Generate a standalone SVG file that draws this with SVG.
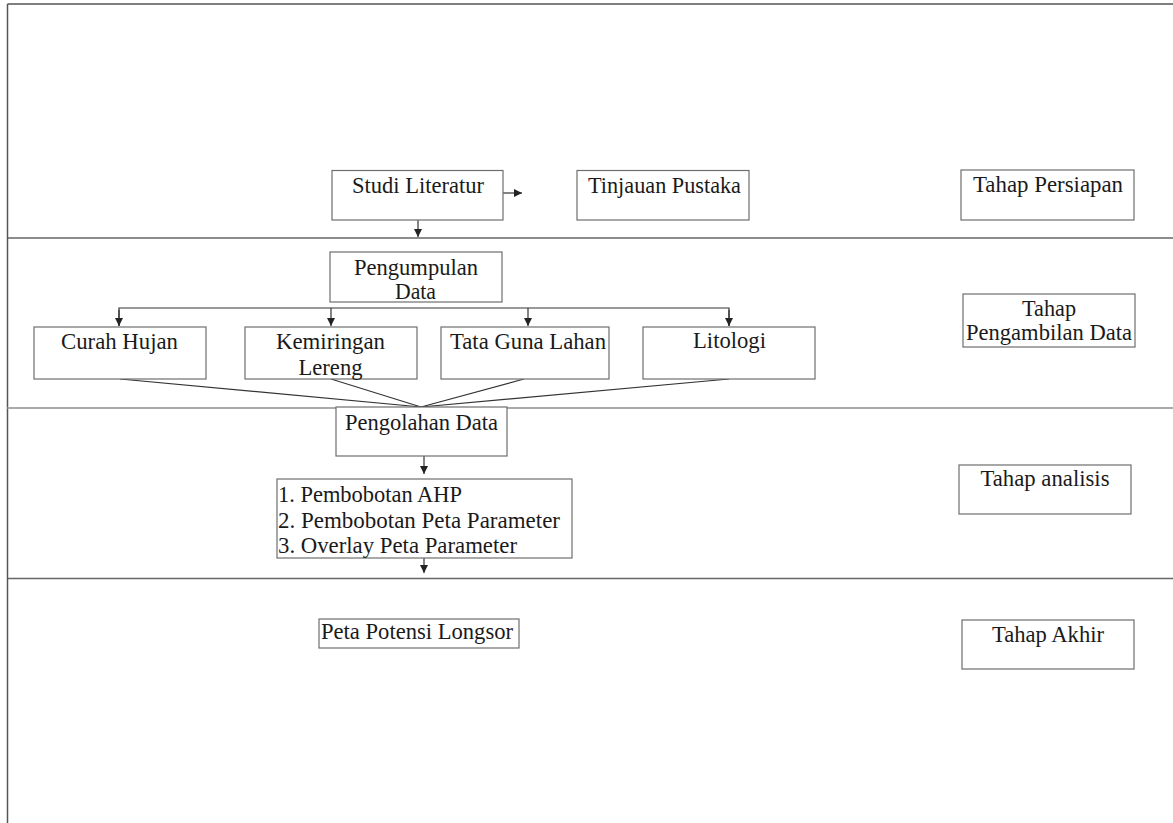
<svg xmlns="http://www.w3.org/2000/svg" width="1173" height="823" viewBox="0 0 1173 823">
<style>
.box{fill:#fff;stroke:#6e6e6e;stroke-width:1.2}
.t{font-family:"Liberation Serif","Times New Roman",serif;font-size:24px;fill:#1a1a1a;text-anchor:middle}
.tl{font-family:"Liberation Serif","Times New Roman",serif;font-size:24px;fill:#1a1a1a}
.c{stroke:#333;stroke-width:1.2;fill:none}
.sep{stroke:#666;stroke-width:1.5}
</style>
<defs>
<marker id="ah" markerWidth="8" markerHeight="8" refX="8" refY="4" orient="auto" markerUnits="userSpaceOnUse">
<path d="M0,0 L8,4 L0,8 Z" fill="#222"/>
</marker>
</defs>
<rect width="1173" height="823" fill="#fff"/>
<g id="frame">
<line x1="7.5" y1="4" x2="1173" y2="4" stroke="#555" stroke-width="1.5"/>
<line x1="7.5" y1="4" x2="7.5" y2="823" stroke="#555" stroke-width="1.5"/>
<line class="sep" x1="7.5" y1="238" x2="1173" y2="238"/>
<line x1="7.5" y1="408" x2="1173" y2="408" stroke="#aaa" stroke-width="2"/>
<line class="sep" x1="7.5" y1="578.5" x2="1173" y2="578.5"/>
</g>
<g id="connectors">
<line class="c" x1="503" y1="193" x2="522" y2="193" marker-end="url(#ah)"/>
<line class="c" x1="418" y1="220" x2="418" y2="237" marker-end="url(#ah)"/>
<polyline class="c" points="119,326 119,308 729,308 729,326"/>
<line class="c" x1="119" y1="310" x2="119" y2="326" marker-end="url(#ah)"/>
<line class="c" x1="331" y1="308" x2="331" y2="326" marker-end="url(#ah)"/>
<line class="c" x1="528" y1="308" x2="528" y2="326" marker-end="url(#ah)"/>
<line class="c" x1="729" y1="310" x2="729" y2="326" marker-end="url(#ah)"/>
<line class="c" x1="120" y1="379" x2="421" y2="407"/>
<line class="c" x1="331" y1="379" x2="421" y2="407"/>
<line class="c" x1="524" y1="379" x2="421" y2="407"/>
<line class="c" x1="729" y1="379" x2="421" y2="407"/>
<line class="c" x1="424" y1="456" x2="424" y2="474" marker-end="url(#ah)"/>
<line class="c" x1="424" y1="558" x2="424" y2="573" marker-end="url(#ah)"/>
</g>
<g id="studi-literatur"><rect class="box" x="332" y="170.5" width="171" height="49.5"/><text class="t" x="418" y="193" textLength="132" lengthAdjust="spacingAndGlyphs">Studi Literatur</text></g>
<g id="tinjauan-pustaka"><rect class="box" x="577" y="170.5" width="172" height="49.5"/><text class="t" x="664.5" y="193" textLength="153" lengthAdjust="spacingAndGlyphs">Tinjauan Pustaka</text></g>
<g id="tahap-persiapan"><rect class="box" x="961" y="170" width="173" height="50"/><text class="t" x="1048" y="192" textLength="150" lengthAdjust="spacingAndGlyphs">Tahap Persiapan</text></g>
<g id="pengumpulan-data"><rect class="box" x="330" y="252" width="172" height="50"/><text class="t" x="416" y="275" textLength="124" lengthAdjust="spacingAndGlyphs">Pengumpulan</text><text class="t" x="415.5" y="299" textLength="41" lengthAdjust="spacingAndGlyphs">Data</text></g>
<g id="curah-hujan"><rect class="box" x="34" y="327" width="172" height="52"/><text class="t" x="119.5" y="349" textLength="117" lengthAdjust="spacingAndGlyphs">Curah Hujan</text></g>
<g id="kemiringan-lereng"><rect class="box" x="245" y="327" width="172" height="52"/><text class="t" x="330.5" y="349" textLength="109" lengthAdjust="spacingAndGlyphs">Kemiringan</text><text class="t" x="330.5" y="375" textLength="64" lengthAdjust="spacingAndGlyphs">Lereng</text></g>
<g id="tata-guna-lahan"><rect class="box" x="441" y="327" width="168" height="52"/><text class="t" x="528" y="349" textLength="156" lengthAdjust="spacingAndGlyphs">Tata Guna Lahan</text></g>
<g id="litologi"><rect class="box" x="643" y="327" width="172" height="52"/><text class="t" x="729.5" y="348" textLength="73" lengthAdjust="spacingAndGlyphs">Litologi</text></g>
<g id="tahap-pengambilan-data"><rect class="box" x="963" y="294" width="172" height="53"/><text class="t" x="1049" y="316" textLength="54" lengthAdjust="spacingAndGlyphs">Tahap</text><text class="t" x="1049" y="340" textLength="166" lengthAdjust="spacingAndGlyphs">Pengambilan Data</text></g>
<g id="pengolahan-data"><rect class="box" x="336" y="407" width="171" height="49"/><text class="t" x="421.5" y="430" textLength="153" lengthAdjust="spacingAndGlyphs">Pengolahan Data</text></g>
<g id="langkah-analisis"><rect class="box" x="277" y="479" width="295" height="79"/><text class="tl" x="278" y="502" textLength="184" lengthAdjust="spacingAndGlyphs">1. Pembobotan AHP</text><text class="tl" x="278" y="528" textLength="282" lengthAdjust="spacingAndGlyphs">2. Pembobotan Peta Parameter</text><text class="tl" x="278" y="553" textLength="239" lengthAdjust="spacingAndGlyphs">3. Overlay Peta Parameter</text></g>
<g id="tahap-analisis"><rect class="box" x="959" y="465" width="172" height="49"/><text class="t" x="1045" y="486" textLength="129" lengthAdjust="spacingAndGlyphs">Tahap analisis</text></g>
<g id="peta-potensi-longsor"><rect class="box" x="319" y="619" width="200" height="29"/><text class="t" x="417" y="639" textLength="192" lengthAdjust="spacingAndGlyphs">Peta Potensi Longsor</text></g>
<g id="tahap-akhir"><rect class="box" x="962" y="620" width="172" height="49"/><text class="t" x="1048" y="642" textLength="112" lengthAdjust="spacingAndGlyphs">Tahap Akhir</text></g>
</svg>
